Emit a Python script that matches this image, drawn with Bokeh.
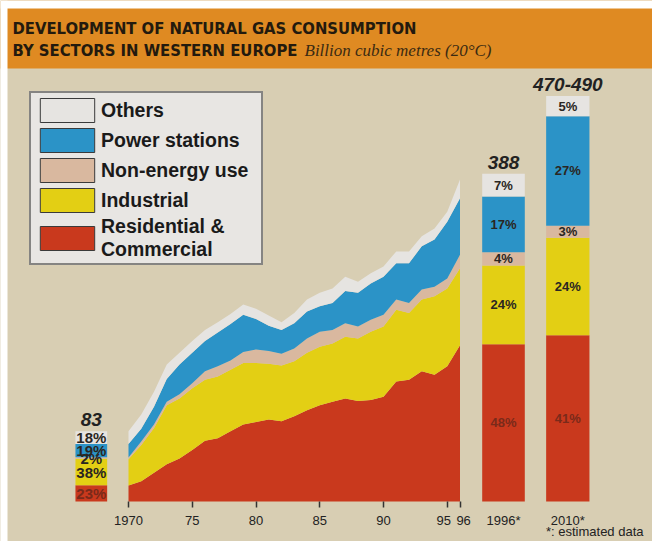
from bokeh.plotting import figure
from bokeh.models import (ColumnDataSource, Legend, LegendItem, FixedTicker, Label,
                          BoxAnnotation, Range1d)
from bokeh.core.properties import value
from bokeh.embed import file_html
from bokeh.resources import INLINE

# ---------------- data (billion cubic metres) ----------------
years = list(range(1970, 1997))
residential = [19, 24, 34, 44, 51, 61, 72, 75, 83, 91, 94, 97, 95, 101, 108, 114, 118, 122,
               119, 120, 124, 142, 144, 154, 150, 160, 185]
industrial = [31, 43, 53, 70, 71, 73, 72, 73, 73, 73, 70, 66, 66, 65, 68, 69, 69, 73,
              74, 81, 83, 85, 79, 85, 93, 92, 91]
non_energy = [2, 4, 4, 4, 5, 6, 10, 12, 11, 13, 16, 15, 14, 15, 17, 18, 16, 16,
              14, 14, 14, 12, 12, 12, 11, 12, 16]
power = [16, 15, 21, 27, 35, 36, 36, 40, 43, 44, 36, 30, 28, 30, 32, 30, 32, 38,
         40, 43, 45, 43, 47, 51, 56, 67, 67]
others = [15, 17, 18, 17, 14, 14, 13, 12, 12, 12, 12, 12, 9, 12, 14, 16, 17, 17,
          13, 12, 12, 14, 14, 12, 13, 12, 22]

# share bars: 1970 (83), 1996* (388), 2010* (470-490)
bar_names = ["1970", "1996*", "2010*"]
bar_totals = [83, 388, 480]
bar_total_text = ["83", "388", "470-490"]
pct_residential = [23, 48, 41]
pct_industrial = [38, 24, 24]
pct_non_energy = [2, 4, 3]
pct_power = [19, 17, 27]
pct_others = [18, 7, 5]

tick_years = [1970, 1975, 1980, 1985, 1990, 1995, 1996]
tick_labels = ["1970", "75", "80", "85", "90", "95\u00a0\u00a0", "\u00a0\u00a096"]

sector_keys = ["residential", "industrial", "non_energy", "power", "others"]
sector_labels = ["Residential &\nCommercial", "Industrial", "Non-energy use",
                 "Power stations", "Others"]

# ---------------- style / layout ----------------
RED = "#C9391D"
YELLOW = "#E3CF14"
TAN = "#D9B89F"
BLUE = "#2B93C7"
WHITE = "#E6E4E1"
BEIGE = "#D8CEB3"
ORANGE = "#DF8A22"
colors = [RED, YELLOW, TAN, BLUE, WHITE]

W, H = 652, 541
BASE_Y = 501            # page y of the zero line
PX_PER_YEAR = 12.75
X_START = 1970 - 128 / PX_PER_YEAR
PX_PER_UNIT = 0.845


def dx(px):
    return X_START + px / PX_PER_YEAR


def dy(py):
    return (BASE_Y - py) / PX_PER_UNIT


BAR_X = [dx(90.8), dx(503), dx(567.3)]
BAR_W = [31.7 / PX_PER_YEAR, 42.6 / PX_PER_YEAR, 43.3 / PX_PER_YEAR]

p = figure(width=W, height=H, output_backend="svg", toolbar_location=None,
           x_range=Range1d(X_START, X_START + W / PX_PER_YEAR),
           y_range=Range1d(dy(H), dy(0)),
           y_axis_location=None,
           min_border_left=0, min_border_right=0, min_border_top=0, min_border_bottom=0)
p.background_fill_color = BEIGE
p.border_fill_color = BEIGE
p.outline_line_color = None
p.grid.visible = False

# title band and photo edge
p.add_layout(BoxAnnotation(bottom=dy(68), fill_color=ORANGE, fill_alpha=1, line_color=None))
p.add_layout(BoxAnnotation(bottom=dy(8), fill_color="white", fill_alpha=1, line_color=None))
p.add_layout(BoxAnnotation(right=dx(7), fill_color="white", fill_alpha=1, line_color=None))

title_font = "DejaVu Sans Condensed, Roboto, Liberation Sans"
p.add_layout(Label(x=dx(12), y=dy(27.5), text="DEVELOPMENT OF NATURAL GAS CONSUMPTION",
                   text_font=title_font, text_font_style="bold", text_font_size="16.5px",
                   text_color="#231a0e", text_baseline="middle"))
p.add_layout(Label(x=dx(12), y=dy(50), text="BY SECTORS IN WESTERN EUROPE",
                   text_font=title_font, text_font_style="bold", text_font_size="16.5px",
                   text_color="#231a0e", text_baseline="middle"))
p.add_layout(Label(x=dx(304), y=dy(50), text="Billion cubic metres (20\u00b0C)",
                   text_font="Liberation Serif", text_font_style="italic", text_font_size="17px",
                   text_color="#3b2a12", text_baseline="middle"))

# stacked areas
area_src = ColumnDataSource(dict(year=years, residential=residential, industrial=industrial,
                                 non_energy=non_energy, power=power, others=others))
p.varea_stack(sector_keys, x="year", fill_color=colors, source=area_src)

# share bars
pcts = dict(residential=pct_residential, industrial=pct_industrial, non_energy=pct_non_energy,
            power=pct_power, others=pct_others)
bar_data = dict(x=BAR_X, w=BAR_W, total=bar_totals, total_text=bar_total_text, name=bar_names)
for k in sector_keys:
    bar_data[k] = [pc * t / 100 for pc, t in zip(pcts[k], bar_totals)]
bar_src = ColumnDataSource(bar_data)
p.vbar_stack(sector_keys, x="x", width="w", fill_color=colors, line_color=None, source=bar_src)
# hidden copies that only serve as outlined legend swatches
legend_proxies = p.vbar_stack(sector_keys, x="x", width="w", fill_color=colors,
                              line_color="#3a3a3a", line_width=1, source=bar_src, visible=False)

# percentage labels
lx, ly, lt, lc, ls = [], [], [], [], []
for i in range(len(bar_totals)):
    base = 0
    for k in sector_keys:
        v = bar_data[k][i]
        lx.append(BAR_X[i])
        ly.append(base + v / 2)
        lt.append(f"{pcts[k][i]}%")
        lc.append("#7a2a1a" if k == "residential" else "#2a2622")
        ls.append("15px" if i == 0 else "13px")
        base += v
pct_src = ColumnDataSource(dict(x=lx, y=ly, text=lt, color=lc, size=ls))
p.text(x="x", y="y", text="text", text_color="color", text_font_size="size",
       text_font=value("Liberation Sans"), text_font_style="bold",
       text_align="center", text_baseline="middle", source=pct_src)

# totals
p.text(x="x", y="total", text="total_text", source=bar_src, text_font=value("Liberation Sans"),
       text_font_style="bold italic", text_font_size="19px", text_color="#222222",
       text_align="center", text_baseline="bottom", y_offset=-5)

# bar year labels below the zero line
name_src = ColumnDataSource(dict(x=BAR_X[1:], y=[dy(520)] * 2, text=bar_names[1:]))
p.text(x="x", y="y", text="text", source=name_src, text_font=value("Liberation Sans"),
       text_font_size="13px", text_color="#222222", text_align="center",
       text_baseline="middle")
p.add_layout(Label(x=dx(643), y=dy(531), text="*: estimated data", text_font="Liberation Sans",
                   text_font_size="13px", text_color="#222222", text_align="right",
                   text_baseline="middle"))

# x axis drawn at the zero line
ax = p.xaxis[0]
ax.fixed_location = 0
ax.ticker = FixedTicker(ticks=tick_years)
ax.major_label_overrides = {y: s for y, s in zip(tick_years, tick_labels)}
ax.axis_line_color = None
ax.major_tick_line_color = "#333333"
ax.major_tick_line_width = 1.5
ax.major_tick_in = 0
ax.major_tick_out = 6
ax.minor_tick_line_color = None
ax.major_label_standoff = 5
ax.major_label_text_font = "Liberation Sans"
ax.major_label_text_font_size = "13px"
ax.major_label_text_color = "#222222"

# legend
legend_items = []
for r, lab in reversed(list(zip(legend_proxies, sector_labels))):
    legend_items.append(LegendItem(label=lab, renderers=[r]))
legend = Legend(items=legend_items, location=(29, H - 265), glyph_width=68, glyph_height=30,
                label_standoff=0, label_width=158, spacing=0, padding=2, margin=0,
                border_line_color="#222222", border_line_width=2,
                background_fill_color="#E8E6E3", background_fill_alpha=1,
                inactive_fill_alpha=0,
                label_text_font="Liberation Sans", label_text_font_size="19.5px",
                label_text_font_style="bold", label_text_color="#1a1a1a",
                label_text_line_height=0.8)
p.add_layout(legend)

open("out.html", "w").write(file_html(p, INLINE))
